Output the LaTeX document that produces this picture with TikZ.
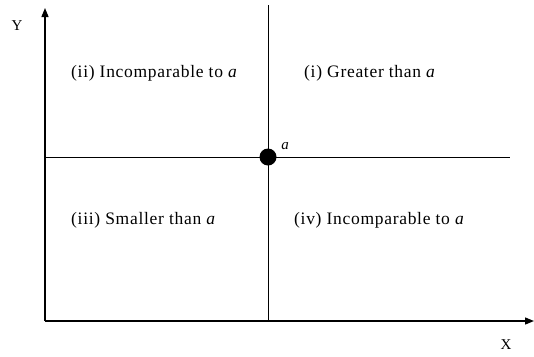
\documentclass[tikz,border=0pt]{standalone}
\usepackage{fontspec}
\setmainfont{Liberation Serif}
\usetikzlibrary{arrows.meta}
\begin{document}
\begin{tikzpicture}[x=1pt,y=-1pt,
  axis/.style={line width=1.3pt,-{Triangle[length=9pt,width=7pt]}},
  divider/.style={line width=1pt},
  lbl/.style={font=\fontsize{17.5}{20}\selectfont\addfontfeature{LetterSpace=4},inner sep=0pt,anchor=west},
  axlbl/.style={font=\fontsize{15}{18}\selectfont,inner sep=0pt}]
\useasboundingbox (0,0) rectangle (534,356);
\coordinate (O) at (45,321);
\coordinate (Ytip) at (45,8);
\coordinate (Xtip) at (534,321);
\coordinate (Vtop) at (268,5);
\coordinate (Vbot) at (268,321);
\coordinate (Hl) at (45,157);
\coordinate (Hr) at (510,157);
\draw[divider] (Vtop) -- (Vbot);
\draw[divider] (Hl) -- (Hr);
\draw[axis] (O) -- (Ytip);
\draw[axis] (O) -- (Xtip);
\node[circle,fill=black,minimum size=17pt,inner sep=0pt] (a) at (268,157) {};
\node[axlbl] (alab) at (285,146) {\textit{a}};
\node[axlbl] (Y) at (17,26) {Y};
\node[axlbl] (X) at (506,345) {X};
\node[lbl] (q2) at (71,73) {(ii) Incomparable to \textit{a}};
\node[lbl] (q1) at (304,73) {(i) Greater than \textit{a}};
\node[lbl] (q3) at (71,220) {(iii) Smaller than \textit{a}};
\node[lbl] (q4) at (294,220) {(iv) Incomparable to \textit{a}};
\end{tikzpicture}
\end{document}
